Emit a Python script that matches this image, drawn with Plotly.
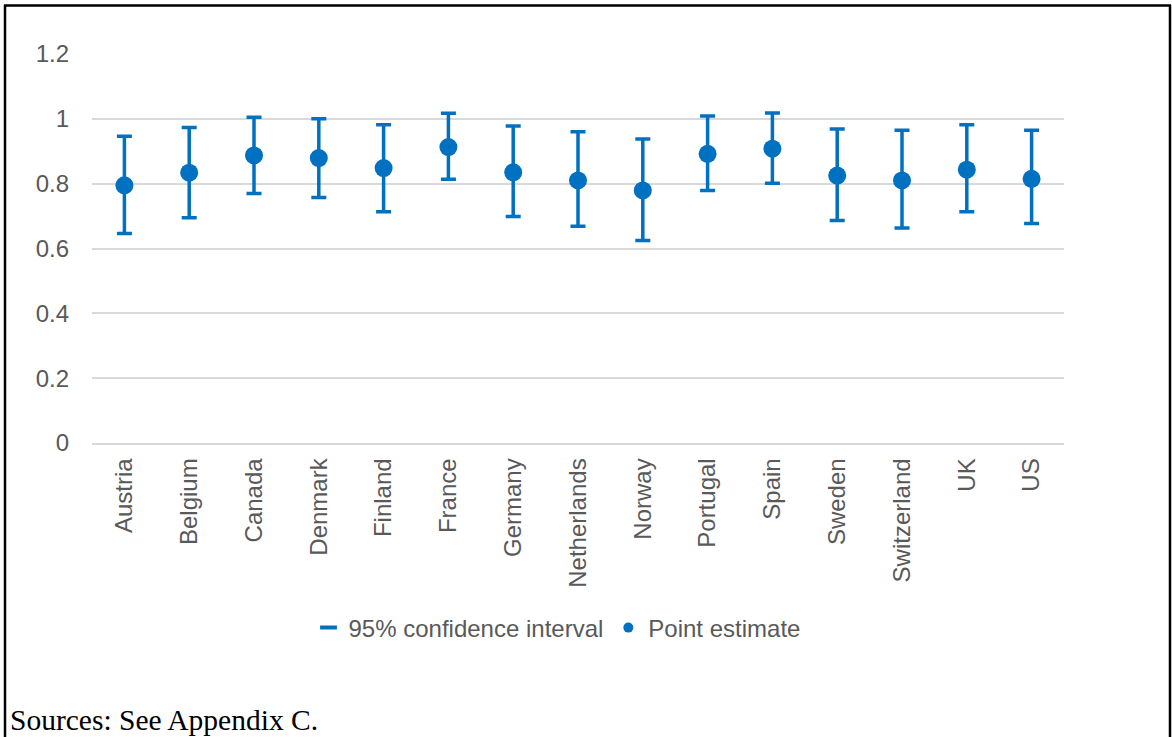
import plotly.graph_objects as go

countries = ["Austria", "Belgium", "Canada", "Denmark", "Finland", "France", "Germany",
             "Netherlands", "Norway", "Portugal", "Spain", "Sweden", "Switzerland", "UK", "US"]
point_estimate = [0.795, 0.834, 0.887, 0.879, 0.848, 0.913, 0.835, 0.810, 0.779, 0.892,
                  0.908, 0.825, 0.810, 0.843, 0.815]
ci_upper = [0.946, 0.973, 1.005, 1.000, 0.982, 1.017, 0.978, 0.960, 0.938, 1.009,
            1.018, 0.969, 0.965, 0.982, 0.965]
ci_lower = [0.646, 0.695, 0.770, 0.757, 0.713, 0.814, 0.699, 0.669, 0.625, 0.779,
            0.801, 0.686, 0.663, 0.713, 0.677]
y_ticks = [0, 0.2, 0.4, 0.6, 0.8, 1, 1.2]

BLUE = "#0070C0"
GREY_TXT = "#595959"
GRID = "#D9D9D9"
FONT = "Liberation Sans, Arial, sans-serif"
FS = 24

err_plus = [u - p for u, p in zip(ci_upper, point_estimate)]
err_minus = [p - l for p, l in zip(point_estimate, ci_lower)]

fig = go.Figure()

# confidence interval (error bars)
fig.add_trace(go.Scatter(
    x=countries, y=point_estimate, mode="markers",
    marker=dict(symbol="line-ew", size=10, color=BLUE, line=dict(width=3, color=BLUE)),
    error_y=dict(type="data", symmetric=False, array=err_plus, arrayminus=err_minus,
                 color=BLUE, thickness=3.5, width=7.5),
    showlegend=False, hoverinfo="skip"))

# point estimates
fig.add_trace(go.Scatter(
    x=countries, y=point_estimate, mode="markers",
    marker=dict(symbol="circle", size=18, color=BLUE),
    showlegend=False))

# legend entries
fig.add_trace(go.Scatter(
    x=[None], y=[None], mode="markers", name="95% confidence interval",
    marker=dict(symbol="line-ew", size=12, color=BLUE, line=dict(width=4, color=BLUE))))
fig.add_trace(go.Scatter(
    x=[None], y=[None], mode="markers", name="Point estimate",
    marker=dict(symbol="circle", size=10, color=BLUE)))

L, R, T, B = 92, 108, 54, 294
W, H = 1172, 737
pw, ph = W - L - R, H - T - B

def px_x(x):
    return (x - L) / pw

def px_y(y):
    return (H - B - y) / ph

line_style = dict(color="black", width=2.5)
shapes = [
    dict(type="line", xref="paper", yref="paper", x0=px_x(5), x1=px_x(5),
         y0=px_y(5), y1=px_y(H + 5), line=line_style),
    dict(type="line", xref="paper", yref="paper", x0=px_x(1170), x1=px_x(1170),
         y0=px_y(5), y1=px_y(H + 5), line=line_style),
    dict(type="line", xref="paper", yref="paper", x0=px_x(4), x1=px_x(1171),
         y0=px_y(5.5), y1=px_y(5.5), line=line_style),
]

fig.update_layout(
    width=W, height=H,
    margin=dict(l=L, r=R, t=T, b=B, pad=0),
    paper_bgcolor="white", plot_bgcolor="white",
    font=dict(family=FONT, size=FS, color=GREY_TXT),
    shapes=shapes,
    showlegend=True,
    legend=dict(orientation="h", x=px_x(557), xanchor="center", y=px_y(628), yanchor="middle",
                font=dict(family=FONT, size=FS, color=GREY_TXT),
                itemwidth=30, traceorder="normal", bgcolor="rgba(0,0,0,0)"),
    annotations=[dict(text="Sources: See Appendix C.", xref="paper", yref="paper",
                      x=px_x(8), xanchor="left", y=px_y(738), yanchor="bottom",
                      showarrow=False,
                      font=dict(family="Liberation Serif, Times New Roman, serif", size=29.5, color="black"))],
)

fig.update_xaxes(
    type="category", range=[-0.5, len(countries) - 0.5], tickangle=-90,
    showgrid=False, zeroline=False,
    showline=True, linecolor=GRID, linewidth=1.5, ticks="",
    tickfont=dict(family=FONT, size=FS, color=GREY_TXT),
    ticklabelstandoff=4,
)
fig.update_yaxes(
    range=[0, 1.2], tickvals=y_ticks, ticktext=[f"{v:g}" for v in y_ticks],
    showgrid=True, gridcolor=GRID, gridwidth=1.5,
    zeroline=False, showline=False, ticks="",
    tickfont=dict(family=FONT, size=FS, color=GREY_TXT),
    ticklabelstandoff=22,
)

fig.write_html("out.html", config={"displayModeBar": False},
               post_script="document.body.style.margin='0';")
